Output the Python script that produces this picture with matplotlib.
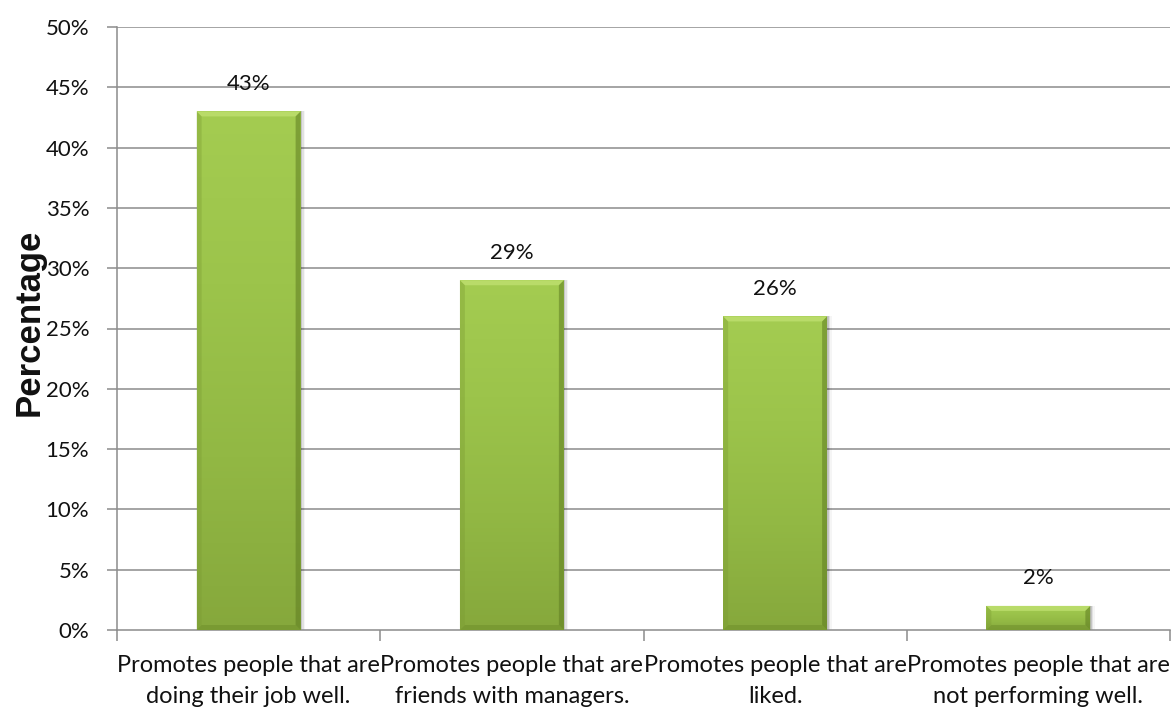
import numpy as np
import matplotlib
matplotlib.use("Agg")
import matplotlib.pyplot as plt
from matplotlib.patches import Rectangle, Polygon
from matplotlib.colors import LinearSegmentedColormap

categories = [
    "Promotes people that are\ndoing their job well.",
    "Promotes people that are\nfriends with managers.",
    "Promotes people that are\nliked.",
    "Promotes people that are\nnot performing well.",
]
values = [43, 29, 26, 2]
value_labels = ["43%", "29%", "26%", "2%"]
y_ticks = [0, 5, 10, 15, 20, 25, 30, 35, 40, 45, 50]
y_tick_labels = [f"{t}%" for t in y_ticks]

label_font = ["Lato", "DejaVu Sans"]

fig = plt.figure(figsize=(11.73, 7.17), dpi=100)
ax = fig.add_axes([117 / 1173, 1 - 630 / 717, (1170 - 117) / 1173, (630 - 27) / 717])

x = np.arange(len(categories))
bar_w = 0.395
grid_color = "#8c8c8c"

ax.set_xlim(-0.5, len(categories) - 0.5)
ax.set_ylim(0, 50)

# gridlines
for t in y_ticks[1:]:
    ax.axhline(t, color=grid_color, lw=1.1, zorder=0)

green = LinearSegmentedColormap.from_list(
    "green", ["#86a83c", "#92b844", "#9cc44b", "#a4cc51"])

# pixel sizes in data units for the bevel
px_x = 1.0 / 263.25
px_y = 50.0 / 603.0

for xi, v in zip(x, values):
    left = xi - bar_w / 2
    right = left + bar_w
    # soft shadow on the right side
    for k, a in enumerate([0.12, 0.08, 0.04]):
        ax.add_patch(Rectangle((left + px_x * 1.5 * (k + 1), 0), bar_w, v,
                               facecolor="black", edgecolor="none",
                               alpha=a, zorder=1))
    rect = Rectangle((left, 0), bar_w, v, facecolor="#9bc24a",
                     edgecolor="none", zorder=2)
    ax.add_patch(rect)
    grad = np.linspace(0, 1, 256).reshape(-1, 1)
    im = ax.imshow(grad, cmap=green, origin="lower", aspect="auto",
                   extent=[left, right, 0, v], zorder=3,
                   interpolation="bicubic")
    im.set_clip_path(rect)
    # bevelled edges
    bx = 5 * px_x
    by = min(5 * px_y, v * 0.3)
    top = Polygon([(left, v), (right, v), (right - bx, v - by), (left + bx, v - by)],
                  closed=True, facecolor="#bfe070", edgecolor="none",
                  alpha=0.8, zorder=4)
    bottom = Polygon([(left, 0), (right, 0), (right - bx, by), (left + bx, by)],
                     closed=True, facecolor="#6a8a28", edgecolor="none",
                     alpha=0.45, zorder=4)
    lside = Polygon([(left, 0), (left + bx, by), (left + bx, v - by), (left, v)],
                    closed=True, facecolor="#7a9a32", edgecolor="none",
                    alpha=0.35, zorder=4)
    rside = Polygon([(right, 0), (right - bx, by), (right - bx, v - by), (right, v)],
                    closed=True, facecolor="#5f7d22", edgecolor="none",
                    alpha=0.55, zorder=4)
    for p in (top, bottom, lside, rside):
        ax.add_patch(p)

for xi, v, lab in zip(x, values, value_labels):
    ax.text(xi, v + 1.45, lab, ha="center", va="bottom", fontsize=16,
            family=label_font, color="#111111", zorder=5)

# axes styling
for s in ["top", "right"]:
    ax.spines[s].set_visible(False)
for s in ["left", "bottom"]:
    ax.spines[s].set_color(grid_color)
    ax.spines[s].set_linewidth(1.1)

ax.set_yticks(y_ticks)
ax.set_yticklabels(y_tick_labels, family=label_font, fontsize=16,
                   color="#111111")
ax.tick_params(axis="y", direction="out", length=7, color=grid_color,
               width=1.1, pad=13)

ax.set_xticks(np.arange(len(categories) + 1) - 0.5)
ax.set_xticklabels([])
ax.tick_params(axis="x", direction="out", length=8, color=grid_color, width=1.1)
ax.set_xticks(x, minor=True)
ax.set_xticklabels(categories, minor=True, family=label_font, fontsize=17,
                   linespacing=1.6, color="#111111")
ax.tick_params(axis="x", which="minor", length=0, pad=18)

ax.set_ylabel("Percentage", family=["Liberation Sans", "DejaVu Sans"],
              fontweight="bold", fontsize=25, color="#111111")
ax.yaxis.set_label_coords(-0.068, 0.51)

fig.savefig("out.png", dpi=100)
